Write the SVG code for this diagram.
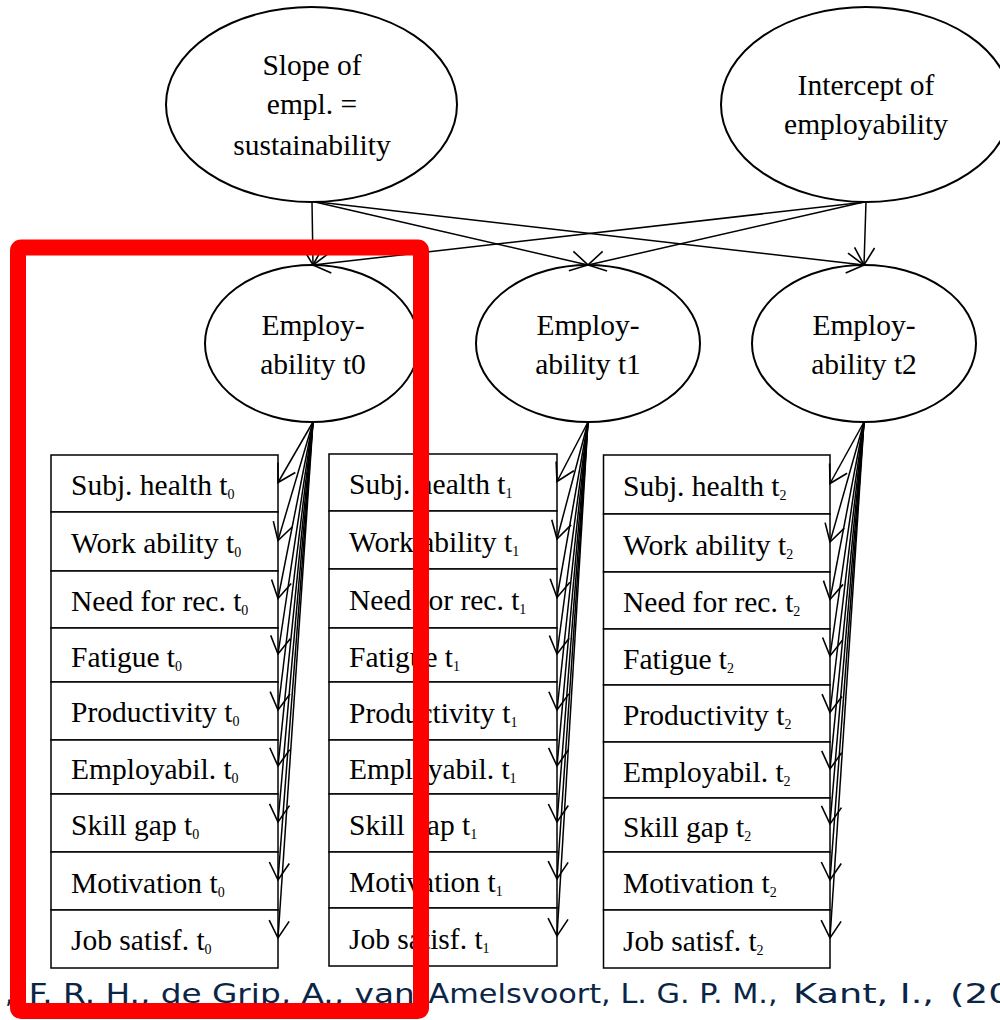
<svg xmlns="http://www.w3.org/2000/svg" width="1000" height="1020" viewBox="0 0 1000 1020">
<style>
.ell{fill:#fff;stroke:#000;stroke-width:2}
.box{fill:#fff;stroke:#000;stroke-width:1.5}
.t{font-family:"Liberation Serif","Times New Roman",serif;font-size:29.5px;fill:#000}
.c{text-anchor:middle}
.s{font-size:14px}
.e{fill:none;stroke:#000;stroke-width:1.5;marker-end:url(#arr)}
.ref{font-family:"DejaVu Sans",Verdana,sans-serif;font-size:26.5px;fill:#0b2546}
</style>
<defs>
<marker id="arr" viewBox="-20 -12 22 24" markerWidth="22" markerHeight="24" refX="0" refY="0" orient="auto" markerUnits="userSpaceOnUse" overflow="visible">
<path d="M-17.3,-10 L0,0 L-17.3,10" fill="none" stroke="#000" stroke-width="1.6"/>
</marker>
</defs>

<g id="slope">
<ellipse class="ell" cx="311.5" cy="104.5" rx="145.5" ry="97.5"/>
<text class="t c" x="312" y="75">Slope of</text>
<text class="t c" x="312" y="114">empl. =</text>
<text class="t c" x="312" y="155">sustainability</text>
</g>
<g id="intercept">
<ellipse class="ell" cx="866" cy="104.5" rx="145" ry="97.5"/>
<text class="t c" x="866" y="95">Intercept of</text>
<text class="t c" x="866" y="134">employability</text>
</g>

<g id="emp0">
<ellipse class="ell" cx="312" cy="343.5" rx="107" ry="78.5"/>
<text class="t c" x="313" y="335">Employ-</text>
<text class="t c" x="313" y="374">ability t0</text>
</g>
<g id="emp1">
<ellipse class="ell" cx="588" cy="343.5" rx="112" ry="78.5"/>
<text class="t c" x="588" y="335">Employ-</text>
<text class="t c" x="588" y="374">ability t1</text>
</g>
<g id="emp2">
<ellipse class="ell" cx="864" cy="343.5" rx="112" ry="78.5"/>
<text class="t c" x="864" y="335">Employ-</text>
<text class="t c" x="864" y="374">ability t2</text>
</g>

<g id="col0">
<g id="c0r1"><rect class="box" x="51" y="455" width="227" height="57"/><text class="t" x="71" y="495">Subj. health t<tspan class="s" dy="4">0</tspan></text></g>
<g id="c0r2"><rect class="box" x="51" y="512" width="227" height="59"/><text class="t" x="71" y="553">Work ability t<tspan class="s" dy="4">0</tspan></text></g>
<g id="c0r3"><rect class="box" x="51" y="571" width="227" height="57"/><text class="t" x="71" y="611">Need for rec. t<tspan class="s" dy="4">0</tspan></text></g>
<g id="c0r4"><rect class="box" x="51" y="628" width="227" height="54"/><text class="t" x="71" y="667">Fatigue t<tspan class="s" dy="4">0</tspan></text></g>
<g id="c0r5"><rect class="box" x="51" y="682" width="227" height="58"/><text class="t" x="71" y="722">Productivity t<tspan class="s" dy="4">0</tspan></text></g>
<g id="c0r6"><rect class="box" x="51" y="740" width="227" height="54"/><text class="t" x="71" y="779">Employabil. t<tspan class="s" dy="4">0</tspan></text></g>
<g id="c0r7"><rect class="box" x="51" y="794" width="227" height="58"/><text class="t" x="71" y="835">Skill gap t<tspan class="s" dy="4">0</tspan></text></g>
<g id="c0r8"><rect class="box" x="51" y="852" width="227" height="58"/><text class="t" x="71" y="893">Motivation t<tspan class="s" dy="4">0</tspan></text></g>
<g id="c0r9"><rect class="box" x="51" y="910" width="227" height="58"/><text class="t" x="71" y="950">Job satisf. t<tspan class="s" dy="4">0</tspan></text></g>
</g>

<g id="col1">
<g id="c1r1"><rect class="box" x="329" y="454" width="228" height="57"/><text class="t" x="349" y="494">Subj. health t<tspan class="s" dy="4">1</tspan></text></g>
<g id="c1r2"><rect class="box" x="329" y="511" width="228" height="58"/><text class="t" x="349" y="551.5">Work ability t<tspan class="s" dy="4">1</tspan></text></g>
<g id="c1r3"><rect class="box" x="329" y="569" width="228" height="59"/><text class="t" x="349" y="610">Need for rec. t<tspan class="s" dy="4">1</tspan></text></g>
<g id="c1r4"><rect class="box" x="329" y="628" width="228" height="54"/><text class="t" x="349" y="666.5">Fatigue t<tspan class="s" dy="4">1</tspan></text></g>
<g id="c1r5"><rect class="box" x="329" y="682" width="228" height="58"/><text class="t" x="349" y="722.5">Productivity t<tspan class="s" dy="4">1</tspan></text></g>
<g id="c1r6"><rect class="box" x="329" y="740" width="228" height="54"/><text class="t" x="349" y="778.5">Employabil. t<tspan class="s" dy="4">1</tspan></text></g>
<g id="c1r7"><rect class="box" x="329" y="794" width="228" height="58"/><text class="t" x="349" y="834.5">Skill gap t<tspan class="s" dy="4">1</tspan></text></g>
<g id="c1r8"><rect class="box" x="329" y="852" width="228" height="56"/><text class="t" x="349" y="891.5">Motivation t<tspan class="s" dy="4">1</tspan></text></g>
<g id="c1r9"><rect class="box" x="329" y="908" width="228" height="58"/><text class="t" x="349" y="948.5">Job satisf. t<tspan class="s" dy="4">1</tspan></text></g>
</g>

<g id="col2">
<g id="c2r1"><rect class="box" x="603.5" y="455" width="226.5" height="59"/><text class="t" x="623" y="496">Subj. health t<tspan class="s" dy="4">2</tspan></text></g>
<g id="c2r2"><rect class="box" x="603.5" y="514" width="226.5" height="58"/><text class="t" x="623" y="554.5">Work ability t<tspan class="s" dy="4">2</tspan></text></g>
<g id="c2r3"><rect class="box" x="603.5" y="572" width="226.5" height="57"/><text class="t" x="623" y="612">Need for rec. t<tspan class="s" dy="4">2</tspan></text></g>
<g id="c2r4"><rect class="box" x="603.5" y="629" width="226.5" height="56"/><text class="t" x="623" y="668.5">Fatigue t<tspan class="s" dy="4">2</tspan></text></g>
<g id="c2r5"><rect class="box" x="603.5" y="685" width="226.5" height="57"/><text class="t" x="623" y="725">Productivity t<tspan class="s" dy="4">2</tspan></text></g>
<g id="c2r6"><rect class="box" x="603.5" y="742" width="226.5" height="56"/><text class="t" x="623" y="781.5">Employabil. t<tspan class="s" dy="4">2</tspan></text></g>
<g id="c2r7"><rect class="box" x="603.5" y="798" width="226.5" height="54"/><text class="t" x="623" y="836.5">Skill gap t<tspan class="s" dy="4">2</tspan></text></g>
<g id="c2r8"><rect class="box" x="603.5" y="852" width="226.5" height="58"/><text class="t" x="623" y="892.5">Motivation t<tspan class="s" dy="4">2</tspan></text></g>
<g id="c2r9"><rect class="box" x="603.5" y="910" width="226.5" height="58"/><text class="t" x="623" y="950.5">Job satisf. t<tspan class="s" dy="4">2</tspan></text></g>
</g>

<g id="connectors">
<line class="e" x1="312" y1="202" x2="313" y2="265"/>
<line class="e" x1="315" y1="202" x2="588" y2="265"/>
<line class="e" x1="318" y1="202" x2="864" y2="265"/>
<line class="e" x1="866" y1="202" x2="313" y2="265"/>
<line class="e" x1="864" y1="202" x2="588" y2="265"/>
<line class="e" x1="866" y1="202" x2="864" y2="265"/>

<line class="e" x1="313" y1="422" x2="278" y2="482.5"/>
<line class="e" x1="313" y1="422" x2="278" y2="540.5"/>
<line class="e" x1="313" y1="422" x2="278" y2="598.5"/>
<line class="e" x1="313" y1="422" x2="278" y2="654"/>
<line class="e" x1="313" y1="422" x2="278" y2="710"/>
<line class="e" x1="313" y1="422" x2="278" y2="766"/>
<line class="e" x1="313" y1="422" x2="278" y2="822"/>
<line class="e" x1="313" y1="422" x2="278" y2="880"/>
<line class="e" x1="313" y1="422" x2="278" y2="938"/>

<line class="e" x1="588" y1="422" x2="557" y2="481.5"/>
<line class="e" x1="588" y1="422" x2="557" y2="539"/>
<line class="e" x1="588" y1="422" x2="557" y2="597.5"/>
<line class="e" x1="588" y1="422" x2="557" y2="654"/>
<line class="e" x1="588" y1="422" x2="557" y2="710"/>
<line class="e" x1="588" y1="422" x2="557" y2="766"/>
<line class="e" x1="588" y1="422" x2="557" y2="822"/>
<line class="e" x1="588" y1="422" x2="557" y2="879"/>
<line class="e" x1="588" y1="422" x2="557" y2="936"/>

<line class="e" x1="864" y1="422" x2="830" y2="483.5"/>
<line class="e" x1="864" y1="422" x2="830" y2="542"/>
<line class="e" x1="864" y1="422" x2="830" y2="599.5"/>
<line class="e" x1="864" y1="422" x2="830" y2="656"/>
<line class="e" x1="864" y1="422" x2="830" y2="712.5"/>
<line class="e" x1="864" y1="422" x2="830" y2="769"/>
<line class="e" x1="864" y1="422" x2="830" y2="824"/>
<line class="e" x1="864" y1="422" x2="830" y2="880"/>
<line class="e" x1="864" y1="422" x2="830" y2="938"/>
</g>

<g id="citation">
<text class="ref" x="5" y="1003">,</text>
<text class="ref" x="28.7" y="1003" textLength="386" lengthAdjust="spacingAndGlyphs">F. R. H., de Grip, A., van</text>
<text class="ref" x="428.6" y="1003" textLength="349" lengthAdjust="spacingAndGlyphs">Amelsvoort, L. G. P. M.,</text>
<text class="ref" x="793" y="1003" textLength="141" lengthAdjust="spacingAndGlyphs">Kant, I.,</text>
<text class="ref" x="950" y="1003" textLength="62" lengthAdjust="spacingAndGlyphs">(20</text>
</g>

<rect id="highlight" x="18" y="247.5" width="403" height="763.5" rx="3" fill="none" stroke="#ff0000" stroke-width="16"/>
</svg>
